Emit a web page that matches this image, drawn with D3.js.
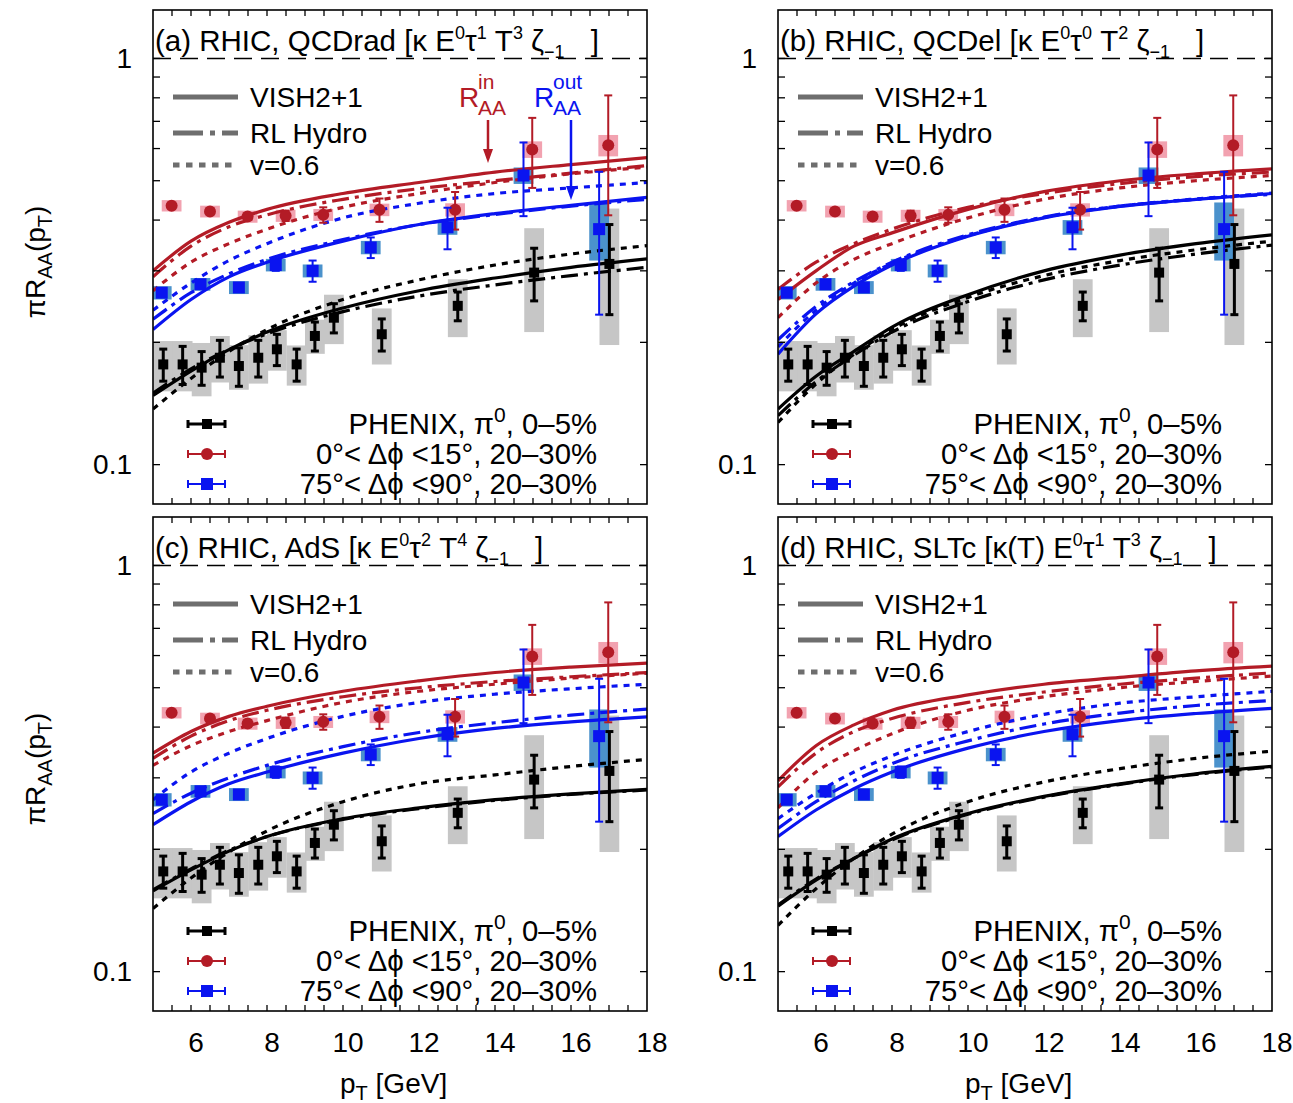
<!DOCTYPE html>
<html>
<head>
<meta charset="utf-8">
<script src="https://cdn.jsdelivr.net/npm/d3@7"></script>
<style>
  body { margin: 0; background: #fff; }
  svg { display: block; }
  text { font-family: "Liberation Sans", Arial, "DejaVu Sans", sans-serif; fill: #000; }
</style>
</head>
<body>
<svg id="chart" width="1293" height="1103"></svg>
<script>
// ---------------- measured data (PHENIX pi0) ----------------
const phenixPT   = [5.27, 5.78, 6.28, 6.76, 7.26, 7.77, 8.26, 8.78, 9.26, 9.76, 11.02, 13.02, 15.03, 17.01];
const phenixRAA  = [0.1765, 0.1765, 0.1733, 0.1833, 0.1749, 0.1833, 0.1923, 0.1765, 0.2074, 0.230, 0.2094, 0.246, 0.297, 0.312];
const phenixStat = [0.016, 0.019, 0.0165, 0.019, 0.019, 0.019, 0.017, 0.016, 0.017, 0.019, 0.019, 0.020, 0.044, 0.078];
const phenixSys  = [0.025, 0.025, 0.026, 0.024, 0.022, 0.025, 0.022, 0.020, 0.020, 0.032, 0.033, 0.040, 0.085, 0.115];

// in-plane (0 < dphi < 15 deg), 20-30%
const inPlanePT   = [5.49, 6.5, 7.49, 8.49, 9.48, 10.96, 12.95, 14.98, 16.98];
const inPlaneRAA  = [0.434, 0.420, 0.408, 0.410, 0.412, 0.424, 0.424, 0.597, 0.611];
const inPlaneStat = [0.005, 0.006, 0.008, 0.012, 0.018, 0.028, 0.045, 0.117, 0.200];
const inPlaneSys  = [0.014, 0.014, 0.014, 0.014, 0.014, 0.015, 0.016, 0.028, 0.037];

// out-of-plane (75 < dphi < 90 deg), 20-30%
const outPlanePT   = [5.23, 6.25, 7.26, 8.23, 9.2, 10.73, 12.75, 14.75, 16.74];
const outPlaneRAA  = [0.265, 0.278, 0.273, 0.310, 0.300, 0.3425, 0.384, 0.515, 0.380];
const outPlaneStat = [0.004, 0.005, 0.005, 0.010, 0.018, 0.020, 0.045, 0.106, 0.146];
const outPlaneSys  = [0.010, 0.010, 0.010, 0.011, 0.011, 0.013, 0.016, 0.024, 0.062];

// ---------------- model curves ----------------
const curvePT = [5, 6, 7, 8, 10, 12, 14, 16, 18];

// (a) QCDrad
const qcdradBlackVish = [0.148, 0.170, 0.192, 0.212, 0.243, 0.268, 0.288, 0.306, 0.321];
const qcdradBlackRL   = [0.150, 0.172, 0.192, 0.210, 0.238, 0.260, 0.277, 0.292, 0.306];
const qcdradBlackV06  = [0.137, 0.163, 0.190, 0.215, 0.255, 0.285, 0.310, 0.330, 0.346];
const qcdradRedVish   = [0.300, 0.355, 0.395, 0.425, 0.465, 0.495, 0.525, 0.548, 0.570];
const qcdradRedRL     = [0.290, 0.345, 0.385, 0.412, 0.450, 0.478, 0.500, 0.522, 0.545];
const qcdradRedV06    = [0.268, 0.315, 0.350, 0.380, 0.430, 0.465, 0.495, 0.520, 0.540];
const qcdradBlueVish  = [0.215, 0.255, 0.290, 0.315, 0.355, 0.390, 0.415, 0.435, 0.455];
const qcdradBlueRL    = [0.228, 0.265, 0.295, 0.320, 0.358, 0.390, 0.413, 0.433, 0.450];
const qcdradBlueV06   = [0.240, 0.280, 0.318, 0.350, 0.405, 0.440, 0.465, 0.480, 0.495];

// (b) QCDel
const qcdelBlackVish = [0.137, 0.165, 0.190, 0.218, 0.262, 0.300, 0.328, 0.350, 0.368];
const qcdelBlackRL   = [0.132, 0.160, 0.186, 0.212, 0.252, 0.285, 0.310, 0.330, 0.347];
const qcdelBlackV06  = [0.127, 0.158, 0.187, 0.215, 0.258, 0.292, 0.318, 0.338, 0.355];
const qcdelRedVish   = [0.255, 0.300, 0.345, 0.372, 0.425, 0.470, 0.500, 0.520, 0.535];
const qcdelRedRL     = [0.270, 0.315, 0.350, 0.380, 0.430, 0.465, 0.492, 0.512, 0.525];
const qcdelRedV06    = [0.230, 0.280, 0.320, 0.350, 0.405, 0.450, 0.480, 0.500, 0.515];
const qcdelBlueVish  = [0.187, 0.235, 0.275, 0.310, 0.365, 0.405, 0.432, 0.450, 0.465];
const qcdelBlueRL    = [0.203, 0.245, 0.282, 0.315, 0.368, 0.407, 0.433, 0.450, 0.463];
const qcdelBlueV06   = [0.195, 0.240, 0.280, 0.313, 0.366, 0.406, 0.433, 0.451, 0.466];

// (c) AdS
const adsBlackVish = [0.158, 0.178, 0.198, 0.215, 0.238, 0.253, 0.265, 0.274, 0.281];
const adsBlackRL   = [0.159, 0.179, 0.199, 0.215, 0.237, 0.252, 0.264, 0.273, 0.280];
const adsBlackV06  = [0.143, 0.170, 0.197, 0.222, 0.262, 0.290, 0.305, 0.320, 0.333];
const adsRedVish   = [0.345, 0.390, 0.425, 0.450, 0.490, 0.520, 0.545, 0.562, 0.575];
const adsRedRL     = [0.335, 0.380, 0.415, 0.440, 0.475, 0.500, 0.518, 0.532, 0.545];
const adsRedV06    = [0.322, 0.360, 0.390, 0.415, 0.460, 0.490, 0.510, 0.528, 0.543];
const adsBlueVish  = [0.230, 0.262, 0.290, 0.310, 0.345, 0.375, 0.397, 0.412, 0.424];
const adsBlueRL    = [0.245, 0.275, 0.300, 0.322, 0.358, 0.388, 0.410, 0.428, 0.443];
const adsBlueV06   = [0.265, 0.310, 0.345, 0.375, 0.425, 0.460, 0.482, 0.497, 0.510];

// (d) SLTc
const sltcBlackVish = [0.145, 0.168, 0.190, 0.212, 0.245, 0.270, 0.290, 0.307, 0.320];
const sltcBlackRL   = [0.146, 0.169, 0.190, 0.211, 0.244, 0.269, 0.289, 0.306, 0.319];
const sltcBlackV06  = [0.130, 0.160, 0.190, 0.218, 0.262, 0.293, 0.316, 0.335, 0.349];
const sltcRedVish   = [0.295, 0.360, 0.405, 0.440, 0.480, 0.510, 0.530, 0.550, 0.565];
const sltcRedRL     = [0.285, 0.345, 0.390, 0.420, 0.460, 0.488, 0.510, 0.528, 0.544];
const sltcRedV06    = [0.253, 0.310, 0.350, 0.385, 0.440, 0.475, 0.500, 0.518, 0.534];
const sltcBlueVish  = [0.215, 0.250, 0.282, 0.310, 0.355, 0.390, 0.415, 0.432, 0.445];
const sltcBlueRL    = [0.225, 0.262, 0.295, 0.325, 0.370, 0.407, 0.433, 0.452, 0.465];
const sltcBlueV06   = [0.238, 0.275, 0.310, 0.340, 0.390, 0.430, 0.458, 0.475, 0.490];

// ---------------- labels ----------------
const xTickValues = [6, 8, 10, 12, 14, 16, 18];
const yTickLabels = [1, 0.1];
const styleNames  = ["VISH2+1", "RL Hydro", "v=0.6"];
const dataLabels  = [
  [["PHENIX, π", 0], ["0", 1], [", 0–5%", 0]],
  [["0°< Δϕ <15°, 20–30%", 0]],
  [["75°< Δϕ <90°, 20–30%", 0]]
];
// parts: [text, mode (0 normal, 1 sup, -1 sub), extra dx]
const panelTitles = [
  [["(a) RHIC, QCDrad [κ E", 0], ["0", 1], ["τ", 0], ["1", 1], [" T", 0], ["3", 1], [" ζ", 0], ["−1", -1], ["]", 0, 26]],
  [["(b) RHIC, QCDel [κ E", 0], ["0", 1], ["τ", 0], ["0", 1], [" T", 0], ["2", 1], [" ζ", 0], ["−1", -1], ["]", 0, 26]],
  [["(c) RHIC, AdS [κ E", 0], ["0", 1], ["τ", 0], ["2", 1], [" T", 0], ["4", 1], [" ζ", 0], ["−1", -1], ["]", 0, 26]],
  [["(d) RHIC, SLTc [κ(T) E", 0], ["0", 1], ["τ", 0], ["1", 1], [" T", 0], ["3", 1], [" ζ", 0], ["−1", -1], ["]", 0, 26]]
];

const panelCurves = [
  [[qcdradBlackVish, qcdradBlackRL, qcdradBlackV06], [qcdradRedVish, qcdradRedRL, qcdradRedV06], [qcdradBlueVish, qcdradBlueRL, qcdradBlueV06]],
  [[qcdelBlackVish, qcdelBlackRL, qcdelBlackV06], [qcdelRedVish, qcdelRedRL, qcdelRedV06], [qcdelBlueVish, qcdelBlueRL, qcdelBlueV06]],
  [[adsBlackVish, adsBlackRL, adsBlackV06], [adsRedVish, adsRedRL, adsRedV06], [adsBlueVish, adsBlueRL, adsBlueV06]],
  [[sltcBlackVish, sltcBlackRL, sltcBlackV06], [sltcRedVish, sltcRedRL, sltcRedV06], [sltcBlueVish, sltcBlueRL, sltcBlueV06]]
];

// ---------------- styling ----------------
const RED = "#b31b26", BLUE = "#0a14f0", BLACK = "#000";
const seriesColors = [BLACK, RED, BLUE];
const dashes = [null, "17,6,4,6", "6,6"];
const legendDashes = [null, "30,7,5,7", "6.5,6.5"];
const FS = 28;
const TITLE_FS = 29.5;
const DATA_FS = 29.3;

const svg = d3.select("#chart");
const PW = 494, PH = 494;
const layout = [
  { x: 153, y: 10 }, { x: 778, y: 10 },
  { x: 153, y: 517 }, { x: 778, y: 517 }
];

// text with super/subscripts built from [text, mode, dx] parts
function rich(sel, parts, size, scale = 0.7) {
  let cur = 0;
  parts.forEach(([t, m, dx]) => {
    const target = m === 1 ? -0.42 * size : (m === -1 ? 0.25 * size : 0);
    const ts = sel.append("tspan").text(t).attr("dy", target - cur);
    if (dx) ts.attr("dx", dx);
    if (m !== 0) ts.attr("font-size", Math.round(size * scale));
    cur = target;
  });
  return sel;
}

layout.forEach((P, pi) => {
  const x = d3.scaleLinear().domain([5, 18]).range([P.x, P.x + PW]);
  const y = d3.scaleLog().domain([0.08, 1.316]).range([P.y + PH, P.y]);
  const g = svg.append("g");

  const clipId = "clip" + pi;
  svg.append("clipPath").attr("id", clipId)
    .append("rect").attr("x", P.x).attr("y", P.y).attr("width", PW).attr("height", PH);
  const plot = g.append("g").attr("clip-path", `url(#${clipId})`);

  // dashed reference line at unity
  plot.append("line")
    .attr("x1", P.x).attr("x2", P.x + PW)
    .attr("y1", y(1)).attr("y2", y(1))
    .attr("stroke", "#000").attr("stroke-width", 1.6)
    .attr("stroke-dasharray", "18,9");

  // systematic uncertainty boxes
  const boxW = x(5.52) - x(5);
  const sysSets = [
    [phenixPT, phenixRAA, phenixSys, "#c6c6c6"],
    [inPlanePT, inPlaneRAA, inPlaneSys, "#f2a2b0"],
    [outPlanePT, outPlaneRAA, outPlaneSys, "#4b92cc"]
  ];
  sysSets.forEach(([px, py, ps, col]) => {
    plot.append("g").selectAll("rect").data(px).join("rect")
      .attr("x", (d) => x(d) - boxW / 2)
      .attr("width", boxW)
      .attr("y", (d, i) => y(py[i] + ps[i]))
      .attr("height", (d, i) => y(py[i] - ps[i]) - y(py[i] + ps[i]))
      .attr("fill", col);
  });

  // model curves
  const line = d3.line().x((d) => x(d[0])).y((d) => y(d[1])).curve(d3.curveMonotoneX);
  panelCurves[pi].forEach((group, ci) => {
    group.forEach((vals, si) => {
      plot.append("path")
        .datum(curvePT.map((p, k) => [p, vals[k]]))
        .attr("d", line)
        .attr("fill", "none")
        .attr("stroke", seriesColors[ci])
        .attr("stroke-width", 3.2)
        .attr("stroke-dasharray", dashes[si]);
    });
  });

  // statistical error bars and markers
  const statSets = [
    [phenixPT, phenixRAA, phenixStat, BLACK, 3, "sq", 10],
    [inPlanePT, inPlaneRAA, inPlaneStat, RED, 2, "ci", 6],
    [outPlanePT, outPlaneRAA, outPlaneStat, BLUE, 2, "sq", 12]
  ];
  statSets.forEach(([px, py, pe, col, lw, shape, ms]) => {
    const eg = plot.append("g").attr("stroke", col).attr("stroke-width", lw);
    px.forEach((p, i) => {
      const cx = x(p), y1 = y(py[i] + pe[i]), y2 = y(py[i] - pe[i]);
      eg.append("line").attr("x1", cx).attr("x2", cx).attr("y1", y1).attr("y2", y2);
      eg.append("line").attr("x1", cx - 4).attr("x2", cx + 4).attr("y1", y1).attr("y2", y1);
      eg.append("line").attr("x1", cx - 4).attr("x2", cx + 4).attr("y1", y2).attr("y2", y2);
    });
    const mg = plot.append("g").attr("fill", col);
    px.forEach((p, i) => {
      if (shape === "ci") {
        mg.append("circle").attr("cx", x(p)).attr("cy", y(py[i])).attr("r", ms);
      } else {
        mg.append("rect").attr("x", x(p) - ms / 2).attr("y", y(py[i]) - ms / 2)
          .attr("width", ms).attr("height", ms);
      }
    });
  });

  // frame
  g.append("rect").attr("x", P.x).attr("y", P.y).attr("width", PW).attr("height", PH)
    .attr("fill", "none").attr("stroke", "#000").attr("stroke-width", 1.6);

  // x ticks every 0.5 GeV, inward on top and bottom
  const xt = d3.range(5.5, 18, 0.5);
  const tg = g.append("g").attr("stroke", "#000").attr("stroke-width", 1.3);
  xt.forEach((t) => {
    tg.append("line").attr("x1", x(t)).attr("x2", x(t)).attr("y1", P.y + PH).attr("y2", P.y + PH - 6);
    tg.append("line").attr("x1", x(t)).attr("x2", x(t)).attr("y1", P.y).attr("y2", P.y + 6);
  });
  // y ticks 0.1 .. 1, inward on left and right
  const yt = d3.range(1, 11).map((k) => k / 10);
  yt.forEach((t) => {
    tg.append("line").attr("x1", P.x).attr("x2", P.x + 7).attr("y1", y(t)).attr("y2", y(t));
    tg.append("line").attr("x1", P.x + PW).attr("x2", P.x + PW - 7).attr("y1", y(t)).attr("y2", y(t));
  });

  // y tick labels
  yTickLabels.forEach((v) => {
    g.append("text").attr("x", P.x - 21).attr("y", y(v)).attr("dy", "0.34em")
      .attr("text-anchor", "end").attr("font-size", FS).text(String(v));
  });

  // x tick labels on lower row only
  if (pi >= 2) {
    xTickValues.forEach((v) => {
      g.append("text").attr("x", x(v) + 5).attr("y", P.y + PH + 41)
        .attr("text-anchor", "middle").attr("font-size", FS).text(String(v));
    });
    rich(g.append("text").attr("x", P.x + PW / 2 - 60).attr("y", P.y + PH + 82).attr("font-size", FS),
      [["p", 0], ["T", -1], [" [GeV]", 0]], FS);
  }

  // y axis title on left column
  if (pi % 2 === 0) {
    const yt = g.append("text")
      .attr("transform", `translate(45,${P.y + PH / 2 + 5}) rotate(-90)`)
      .attr("text-anchor", "middle").attr("font-size", FS);
    rich(yt, [["πR", 0], ["AA", -1], ["(p", 0], ["T", -1], [")", 0]], FS);
  }

  // panel title
  rich(g.append("text").attr("x", P.x + 2).attr("y", P.y + 41).attr("font-size", TITLE_FS),
    panelTitles[pi], TITLE_FS, 0.62);

  // model line-style legend
  const lgY = [P.y + 87, P.y + 123, P.y + 155];
  styleNames.forEach((name, si) => {
    g.append("line").attr("x1", P.x + 20).attr("x2", P.x + 85)
      .attr("y1", lgY[si]).attr("y2", lgY[si])
      .attr("stroke", "#6e6e6e").attr("stroke-width", 5)
      .attr("stroke-dasharray", legendDashes[si]);
    g.append("text").attr("x", P.x + 97).attr("y", lgY[si]).attr("dy", "0.36em")
      .attr("font-size", FS).text(name);
  });

  // data legend
  const dlY = [P.y + PH - 80, P.y + PH - 50, P.y + PH - 20];
  statSets.forEach(([, , , col, lw, shape, ms], k) => {
    const ly = dlY[k], x1 = P.x + 35, x2 = P.x + 72, mx = P.x + 54;
    const lg = g.append("g").attr("stroke", col).attr("stroke-width", lw);
    lg.append("line").attr("x1", x1).attr("x2", x2).attr("y1", ly).attr("y2", ly);
    lg.append("line").attr("x1", x1).attr("x2", x1).attr("y1", ly - 4).attr("y2", ly + 4);
    lg.append("line").attr("x1", x2).attr("x2", x2).attr("y1", ly - 4).attr("y2", ly + 4);
    if (shape === "ci") {
      g.append("circle").attr("cx", mx).attr("cy", ly).attr("r", ms).attr("fill", col);
    } else {
      g.append("rect").attr("x", mx - ms / 2).attr("y", ly - ms / 2).attr("width", ms).attr("height", ms).attr("fill", col);
    }
    rich(g.append("text").attr("x", P.x + 444).attr("y", ly + 10).attr("text-anchor", "end").attr("font-size", DATA_FS),
      dataLabels[k], DATA_FS);
  });

  // reaction-plane annotations in the first panel
  if (pi === 0) {
    const ann = [
      { col: RED, x: 459, sup: "in", arrowX: 488, arrowEnd: 163 },
      { col: BLUE, x: 534, sup: "out", arrowX: 571, arrowEnd: 200 }
    ];
    ann.forEach((a) => {
      g.append("text").attr("x", a.x).attr("y", 107).attr("font-size", FS).style("fill", a.col).text("R");
      g.append("text").attr("x", a.x + 19).attr("y", 89).attr("font-size", 21).style("fill", a.col).text(a.sup);
      g.append("text").attr("x", a.x + 19).attr("y", 115).attr("font-size", 21).style("fill", a.col).text("AA");
      g.append("line").attr("x1", a.arrowX).attr("x2", a.arrowX).attr("y1", 120).attr("y2", a.arrowEnd - 8)
        .attr("stroke", a.col).attr("stroke-width", 2.5);
      g.append("path")
        .attr("d", `M${a.arrowX - 5},${a.arrowEnd - 14} L${a.arrowX + 5},${a.arrowEnd - 14} L${a.arrowX},${a.arrowEnd} Z`)
        .attr("fill", a.col);
    });
  }
});
</script>
</body>
</html>
